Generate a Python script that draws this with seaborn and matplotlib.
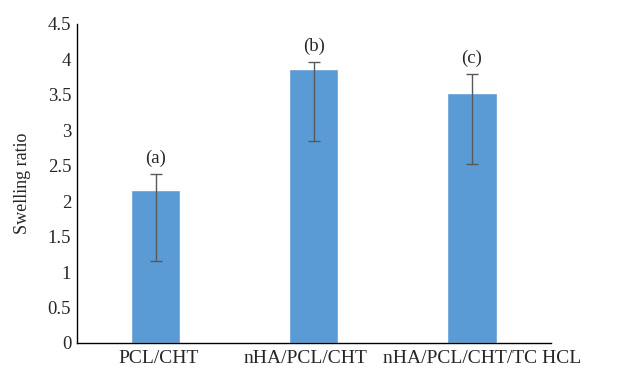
import numpy as np
import pandas as pd
import seaborn as sns
from matplotlib import pyplot as plt
from matplotlib.transforms import ScaledTranslation

# Data
samples = ['PCL/CHT', 'nHA/PCL/CHT', 'nHA/PCL/CHT/TC HCL']
swelling = [2.16, 3.86, 3.53]
err_low = [1.00, 1.01, 1.00]
err_high = [0.22, 0.10, 0.26]
letters = ['(a)', '(b)', '(c)']

sns.set_style('white')
plt.rcParams['font.family'] = ['Liberation Serif', 'DejaVu Serif']
plt.rcParams['font.size'] = 13

df = pd.DataFrame({'sample': samples, 'swelling': swelling})

fig = plt.figure(figsize=(6.4, 3.74), dpi=100)
ax = fig.add_axes([0.120, 0.083, 0.741, 0.853])

sns.barplot(data=df, x='sample', y='swelling', color='#5B9BD5', saturation=1,
            width=0.31, ax=ax)

x = np.arange(len(samples))
ax.errorbar(x, swelling, yerr=[err_low, err_high], fmt='none', ecolor='#595959',
            elinewidth=1, capsize=4, capthick=1)

for xi, top, lab in zip(x, np.array(swelling) + np.array(err_high), letters):
    ax.annotate(lab, (xi, top), xytext=(0, 5), textcoords='offset points',
                ha='center', va='bottom', fontsize=13.5)

ax.set_ylim(0, 4.5)
ax.set_xlim(-0.5, 2.5)
ax.set_yticks(np.arange(0, 4.51, 0.5))
ax.set_yticklabels(['0', '0.5', '1', '1.5', '2', '2.5', '3', '3.5', '4', '4.5'])
ax.set_xlabel('')
ax.set_ylabel('Swelling ratio', fontsize=13, labelpad=12)
ax.tick_params(axis='y', length=0, labelsize=13.5, pad=4)
ax.tick_params(axis='x', length=0, labelsize=14, pad=5)

# nudge the long category labels apart, as in the original
shifts = [3, -8, 10]
for lbl, dx in zip(ax.get_xticklabels(), shifts):
    lbl.set_transform(lbl.get_transform() + ScaledTranslation(dx / 100, 0, fig.dpi_scale_trans))

for side in ['top', 'right']:
    ax.spines[side].set_visible(False)
for side in ['left', 'bottom']:
    ax.spines[side].set_color('black')
    ax.spines[side].set_linewidth(1)

plt.savefig('out.png', dpi=100)
